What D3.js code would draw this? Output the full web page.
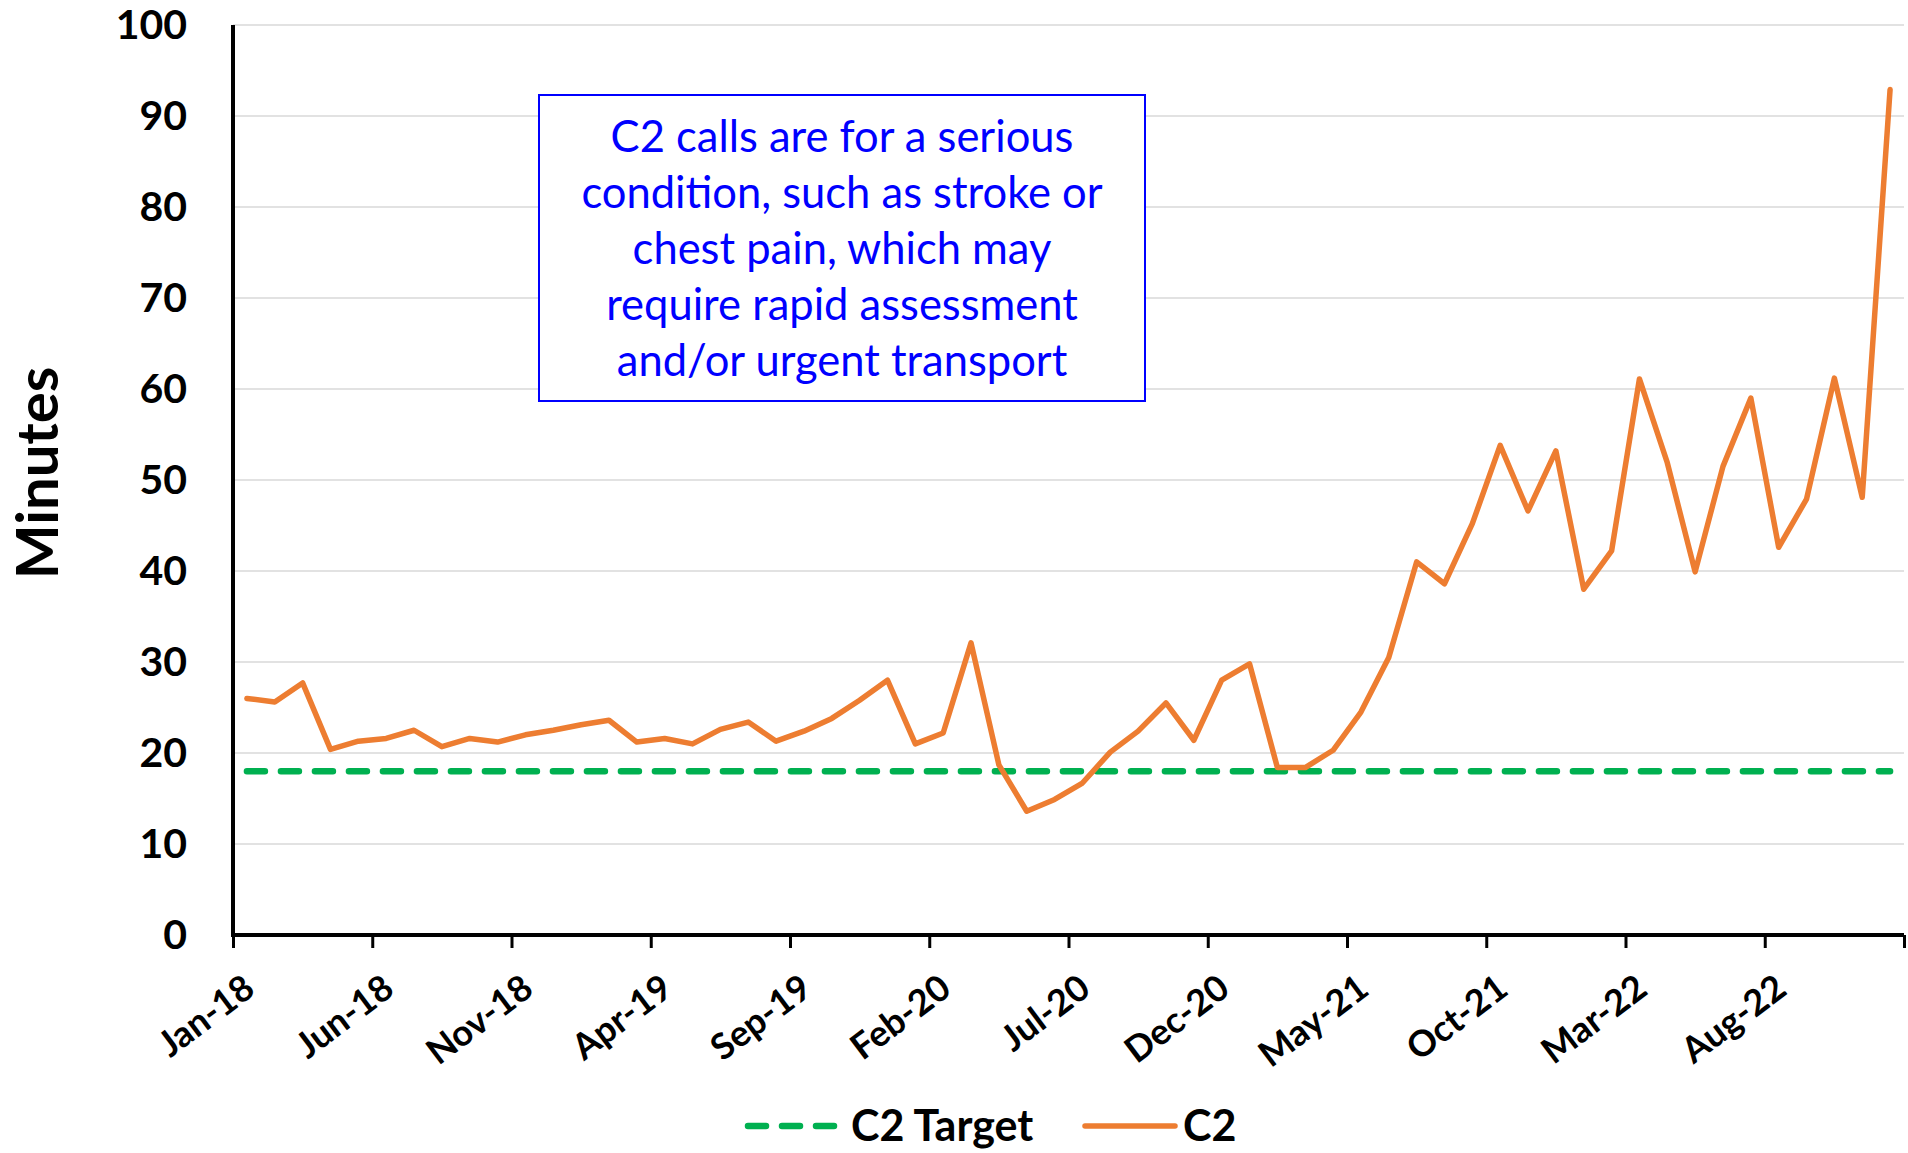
<!DOCTYPE html>
<html lang="en">
<head>
<meta charset="utf-8">
<title>C2 response times</title>
<style>
  body { margin: 0; background: #fff; }
  text { font-family: Lato, "Open Sans", sans-serif; }
</style>
</head>
<body>
<svg id="chart"></svg>
<script src="https://cdn.jsdelivr.net/npm/d3@7"></script>
<script>
// monthly categories, Jan-18 .. Dec-22
const months = [
  'Jan-18','Feb-18','Mar-18','Apr-18','May-18','Jun-18','Jul-18','Aug-18','Sep-18','Oct-18','Nov-18','Dec-18',
  'Jan-19','Feb-19','Mar-19','Apr-19','May-19','Jun-19','Jul-19','Aug-19','Sep-19','Oct-19','Nov-19','Dec-19',
  'Jan-20','Feb-20','Mar-20','Apr-20','May-20','Jun-20','Jul-20','Aug-20','Sep-20','Oct-20','Nov-20','Dec-20',
  'Jan-21','Feb-21','Mar-21','Apr-21','May-21','Jun-21','Jul-21','Aug-21','Sep-21','Oct-21','Nov-21','Dec-21',
  'Jan-22','Feb-22','Mar-22','Apr-22','May-22','Jun-22','Jul-22','Aug-22','Sep-22','Oct-22','Nov-22','Dec-22'
];

// C2 mean response time (minutes)
const c2 = [
  26.0, 25.6, 27.7, 20.4, 21.3, 21.6, 22.5, 20.7, 21.6, 21.2, 22.0, 22.5,
  23.1, 23.6, 21.2, 21.6, 21.0, 22.6, 23.4, 21.3, 22.4, 23.8, 25.8, 28.0,
  21.0, 22.2, 32.1, 18.7, 13.6, 14.9, 16.7, 20.1, 22.4, 25.5, 21.4, 28.0,
  29.8, 18.4, 18.4, 20.3, 24.5, 30.5, 41.0, 38.6, 45.2, 53.8, 46.6, 53.2,
  38.0, 42.2, 61.1, 51.9, 39.9, 51.5, 59.0, 42.6, 47.9, 61.2, 48.1, 92.9
];

// C2 target (minutes)
const c2Target = [
  18, 18, 18, 18, 18, 18, 18, 18, 18, 18, 18, 18,
  18, 18, 18, 18, 18, 18, 18, 18, 18, 18, 18, 18,
  18, 18, 18, 18, 18, 18, 18, 18, 18, 18, 18, 18,
  18, 18, 18, 18, 18, 18, 18, 18, 18, 18, 18, 18,
  18, 18, 18, 18, 18, 18, 18, 18, 18, 18, 18, 18
];

const yTicks = [0, 10, 20, 30, 40, 50, 60, 70, 80, 90, 100];
const labelEvery = 5;

const note = [
  'C2 calls are for a serious',
  'condition, such as stroke or',
  'chest pain, which may',
  'require rapid assessment',
  'and/or urgent transport'
];

const [width, height] = [1908, 1153];
const plot = { left: 233, right: 1904, top: 25, bottom: 935 };

const svg = d3.select('#chart')
  .attr('width', width)
  .attr('height', height);

// category index scale (band edges at integers, points at i + 0.5)
const x = d3.scaleLinear()
  .domain([0, months.length])
  .range([plot.left, plot.right]);
const y = d3.scaleLinear()
  .domain([0, 100])
  .range([plot.bottom, plot.top]);

// gridlines
svg.append('g')
  .selectAll('line')
  .data(yTicks.filter(d => d > 0))
  .enter()
  .append('line')
  .attr('x1', plot.left)
  .attr('x2', plot.right)
  .attr('y1', d => y(d))
  .attr('y2', d => y(d))
  .attr('stroke', '#d9d9d9')
  .attr('stroke-width', 1.5);

// y axis labels
const yAxis = svg.append('g')
  .attr('transform', 'translate(' + plot.left + ',0)')
  .call(d3.axisLeft(y).tickValues(yTicks).tickSize(0).tickPadding(46));
yAxis.select('.domain').remove();
yAxis.selectAll('text')
  .attr('font-family', 'Lato, sans-serif')
  .attr('font-size', 41)
  .attr('font-weight', 700)
  .attr('fill', '#000');

// x axis: ticks on category boundaries
const xAxis = svg.append('g')
  .attr('transform', 'translate(0,' + plot.bottom + ')')
  .call(d3.axisBottom(x)
    .tickValues(d3.range(0, months.length + 1, labelEvery))
    .tickSize(13)
    .tickFormat(''));
xAxis.select('.domain').remove();
xAxis.selectAll('.tick line')
  .attr('stroke', '#000')
  .attr('stroke-width', 3);

svg.append('g')
  .selectAll('text')
  .data(months.map((m, i) => ({ m, i })).filter(d => d.i % labelEvery === 0))
  .enter()
  .append('text')
  .attr('transform', d => 'translate(' + (x(d.i + 0.5) + 10) + ',' + (plot.bottom + 58) + ') rotate(-37)')
  .attr('text-anchor', 'end')
  .attr('font-size', 36)
  .attr('font-weight', 700)
  .attr('fill', '#000')
  .text(d => d.m);

// axis lines
svg.append('line')
  .attr('x1', plot.left).attr('x2', plot.left)
  .attr('y1', plot.top).attr('y2', plot.bottom + 2)
  .attr('stroke', '#000').attr('stroke-width', 4);
svg.append('line')
  .attr('x1', plot.left - 2).attr('x2', plot.right)
  .attr('y1', plot.bottom).attr('y2', plot.bottom)
  .attr('stroke', '#000').attr('stroke-width', 4);

// series
const line = d3.line()
  .x((d, i) => x(i + 0.5))
  .y(d => y(d));

svg.append('path')
  .datum(c2Target)
  .attr('d', line)
  .attr('fill', 'none')
  .attr('stroke', '#00b050')
  .attr('stroke-width', 6.5)
  .attr('stroke-linecap', 'round')
  .attr('stroke-dasharray', '18 16');

svg.append('path')
  .datum(c2)
  .attr('d', line)
  .attr('fill', 'none')
  .attr('stroke', '#ed7d31')
  .attr('stroke-width', 5.5)
  .attr('stroke-linejoin', 'round')
  .attr('stroke-linecap', 'round');

// y title
svg.append('text')
  .attr('transform', 'translate(58,473) rotate(-90)')
  .attr('text-anchor', 'middle')
  .attr('font-size', 58)
  .attr('font-weight', 700)
  .attr('fill', '#000')
  .text('Minutes');

// note box
svg.append('rect')
  .attr('x', 539)
  .attr('y', 95)
  .attr('width', 606)
  .attr('height', 306)
  .attr('fill', '#fff')
  .attr('stroke', '#0000ff')
  .attr('stroke-width', 2);

svg.append('g')
  .selectAll('text')
  .data(note)
  .enter()
  .append('text')
  .attr('x', 842)
  .attr('y', (d, i) => 136 + i * 56)
  .attr('dy', '0.36em')
  .attr('text-anchor', 'middle')
  .attr('font-size', 43.5)
  .attr('fill', '#0000ff')
  .text(d => d);

// legend
const legend = svg.append('g').attr('transform', 'translate(0,1126)');
legend.append('line')
  .attr('x1', 748).attr('x2', 836)
  .attr('stroke', '#00b050')
  .attr('stroke-width', 6.5)
  .attr('stroke-linecap', 'round')
  .attr('stroke-dasharray', '18 16');
legend.append('text')
  .attr('x', 851)
  .attr('dy', '0.36em')
  .attr('font-size', 43)
  .attr('font-weight', 700)
  .text('C2 Target');
legend.append('line')
  .attr('x1', 1085).attr('x2', 1175)
  .attr('stroke', '#ed7d31')
  .attr('stroke-width', 5.5)
  .attr('stroke-linecap', 'round');
legend.append('text')
  .attr('x', 1183)
  .attr('dy', '0.36em')
  .attr('font-size', 43)
  .attr('font-weight', 700)
  .text('C2');
</script>
</body>
</html>
